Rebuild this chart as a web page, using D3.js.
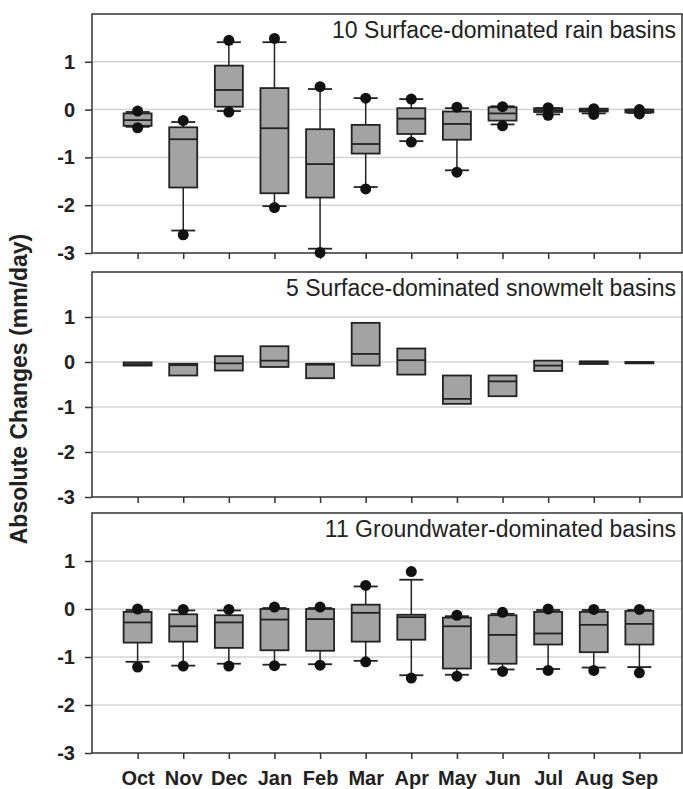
<!DOCTYPE html>
<html>
<head>
<meta charset="utf-8">
<script src="https://cdn.jsdelivr.net/npm/d3@7"></script>
<style>
  body { margin: 0; background: #fff; }
  svg { display: block; font-family: Arial, "Liberation Sans", sans-serif; }
</style>
</head>
<body>
<svg id="chart" width="683" height="789"></svg>
<script>
const months = ["Oct", "Nov", "Dec", "Jan", "Feb", "Mar", "Apr", "May", "Jun", "Jul", "Aug", "Sep"];
const yTicks = [-3, -2, -1, 0, 1];
const panelTitles = [
  "10 Surface-dominated rain basins",
  "5 Surface-dominated snowmelt basins",
  "11 Groundwater-dominated basins"
];

// panel 1 - rain basins
const rainQ3 = [-0.08, -0.37, 0.92, 0.45, -0.41, -0.32, 0.03, -0.04, 0.05, 0.03, 0.02, 0.0];
const rainMed = [-0.22, -0.62, 0.41, -0.39, -1.14, -0.72, -0.19, -0.30, -0.08, -0.01, -0.01, -0.03];
const rainQ1 = [-0.34, -1.63, 0.06, -1.75, -1.84, -0.92, -0.51, -0.63, -0.23, -0.05, -0.04, -0.06];
const rainWhiskHi = [-0.05, -0.26, 1.41, 1.41, 0.43, 0.24, 0.22, 0.03, 0.07, 0.03, 0.01, 0.0];
const rainWhiskLo = [-0.36, -2.53, -0.03, -2.02, -2.91, -1.62, -0.66, -1.27, -0.31, -0.10, -0.08, -0.07];
const rainOutHi = [-0.03, -0.23, 1.45, 1.49, 0.48, 0.24, 0.22, 0.05, 0.06, 0.04, 0.02, 0.0];
const rainOutLo = [-0.38, -2.62, -0.05, -2.05, -2.99, -1.66, -0.68, -1.31, -0.34, -0.12, -0.10, -0.09];

// panel 2 - snowmelt basins (boxes only)
const snowQ3 = [-0.01, -0.04, 0.13, 0.35, -0.04, 0.87, 0.30, -0.30, -0.30, 0.03, 0.015, 0.0];
const snowMed = [-0.05, -0.07, -0.03, 0.03, -0.06, 0.18, 0.04, -0.82, -0.43, -0.08, -0.01, -0.01];
const snowQ1 = [-0.08, -0.30, -0.19, -0.11, -0.36, -0.08, -0.28, -0.93, -0.76, -0.20, -0.045, -0.03];

// panel 3 - groundwater basins
const gwQ3 = [-0.06, -0.11, -0.13, 0.0, 0.0, 0.09, -0.12, -0.18, -0.13, -0.06, -0.06, -0.04];
const gwMed = [-0.28, -0.36, -0.28, -0.22, -0.21, -0.08, -0.17, -0.36, -0.54, -0.51, -0.33, -0.31];
const gwQ1 = [-0.70, -0.68, -0.81, -0.86, -0.87, -0.68, -0.64, -1.24, -1.14, -0.74, -0.90, -0.74];
const gwWhiskHi = [-0.02, -0.03, -0.03, 0.02, 0.02, 0.47, 0.61, -0.15, -0.10, -0.02, -0.02, -0.02];
const gwWhiskLo = [-1.10, -1.18, -1.14, -1.16, -1.15, -1.08, -1.38, -1.37, -1.26, -1.25, -1.22, -1.21];
const gwOutHi = [0.0, -0.01, -0.01, 0.04, 0.04, 0.49, 0.78, -0.13, -0.07, 0.0, -0.01, -0.01];
const gwOutLo = [-1.21, -1.19, -1.19, -1.18, -1.17, -1.10, -1.44, -1.40, -1.30, -1.28, -1.28, -1.33];

const panels = [
  { title: panelTitles[0], top: 14, bottom: 253, q1: rainQ1, med: rainMed, q3: rainQ3,
    wLo: rainWhiskLo, wHi: rainWhiskHi, oLo: rainOutLo, oHi: rainOutHi },
  { title: panelTitles[1], top: 272, bottom: 497, q1: snowQ1, med: snowMed, q3: snowQ3 },
  { title: panelTitles[2], top: 513, bottom: 753, q1: gwQ1, med: gwMed, q3: gwQ3,
    wLo: gwWhiskLo, wHi: gwWhiskHi, oLo: gwOutLo, oHi: gwOutHi }
];

const svg = d3.select("#chart");
const left = 92, right = 682;
const boxW = 28, capW = 24;

const x = d3.scaleLinear().domain([0, 13]).range([92, 685]);

panels.forEach((p, pi) => {
  const y = d3.scaleLinear().domain([-3, 2]).range([p.bottom, p.top]);
  const g = svg.append("g");

  // grid lines
  g.selectAll(".grid")
    .data([-2, -1, 0, 1])
    .enter().append("line")
    .attr("x1", left).attr("x2", right)
    .attr("y1", d => y(d)).attr("y2", d => y(d))
    .attr("stroke", "#d4d4d4")
    .attr("stroke-width", 1.5);

  // y axis
  const yAxis = d3.axisLeft(y).tickValues(yTicks).tickSize(7).tickSizeOuter(0)
    .tickPadding(10).tickFormat(d => String(d));
  const ya = g.append("g").attr("transform", `translate(${left},0)`).call(yAxis);
  ya.select(".domain").remove();
  ya.selectAll("line").attr("stroke", "#333").attr("stroke-width", 1.5);
  ya.selectAll("text").attr("fill", "#222").style("font-size", "20px").style("font-weight", "bold");

  // x axis
  const xAxis = d3.axisBottom(x).tickValues(d3.range(1, 13)).tickSize(6).tickSizeOuter(0)
    .tickPadding(12).tickFormat(d => months[d - 1]);
  const xa = g.append("g").attr("transform", `translate(0,${p.bottom})`).call(xAxis);
  xa.select(".domain").remove();
  xa.selectAll("line").attr("stroke", "#333").attr("stroke-width", 1.5);
  xa.selectAll("text").attr("fill", "#222").style("font-size", "20px").style("font-weight", "bold");
  if (pi < 2) xa.selectAll("text").remove();

  // frame
  g.append("rect")
    .attr("x", left).attr("y", p.top)
    .attr("width", right - left).attr("height", p.bottom - p.top)
    .attr("fill", "none").attr("stroke", "#333").attr("stroke-width", 1.5);

  // title
  g.append("text")
    .attr("x", 676).attr("y", p.top + 24)
    .attr("text-anchor", "end")
    .attr("fill", "#222")
    .style("font-size", "23px")
    .text(p.title);

  const idx = d3.range(months.length);

  // whiskers
  if (p.wLo) {
    g.selectAll(".whisk")
      .data(idx).enter().append("line")
      .attr("x1", i => x(i + 1)).attr("x2", i => x(i + 1))
      .attr("y1", i => y(p.wHi[i])).attr("y2", i => y(p.wLo[i]))
      .attr("stroke", "#222").attr("stroke-width", 1.5);
    [p.wHi, p.wLo].forEach(arr => {
      g.selectAll(null)
        .data(idx).enter().append("line")
        .attr("x1", i => x(i + 1) - capW / 2).attr("x2", i => x(i + 1) + capW / 2)
        .attr("y1", i => y(arr[i])).attr("y2", i => y(arr[i]))
        .attr("stroke", "#222").attr("stroke-width", 1.8);
    });
  }

  // boxes
  g.selectAll(".box")
    .data(idx).enter().append("rect")
    .attr("x", i => x(i + 1) - boxW / 2)
    .attr("width", boxW)
    .attr("y", i => y(p.q3[i]))
    .attr("height", i => Math.max(y(p.q1[i]) - y(p.q3[i]), 1))
    .attr("fill", "#a3a3a3")
    .attr("stroke", "#222").attr("stroke-width", 1.8);

  // medians
  g.selectAll(".med")
    .data(idx).enter().append("line")
    .attr("x1", i => x(i + 1) - boxW / 2).attr("x2", i => x(i + 1) + boxW / 2)
    .attr("y1", i => y(p.med[i])).attr("y2", i => y(p.med[i]))
    .attr("stroke", "#222").attr("stroke-width", 1.8);

  // outlier dots
  if (p.oLo) {
    [p.oHi, p.oLo].forEach(arr => {
      g.selectAll(null)
        .data(idx).enter().append("circle")
        .attr("cx", i => x(i + 1)).attr("cy", i => y(arr[i]))
        .attr("r", 5.5)
        .attr("fill", "#111");
    });
  }
});

// y axis title
svg.append("text")
  .attr("transform", "translate(27,389) rotate(-90)")
  .attr("text-anchor", "middle")
  .attr("fill", "#222")
  .style("font-size", "23px")
  .style("font-weight", "bold")
  .text("Absolute Changes (mm/day)");
</script>
</body>
</html>
